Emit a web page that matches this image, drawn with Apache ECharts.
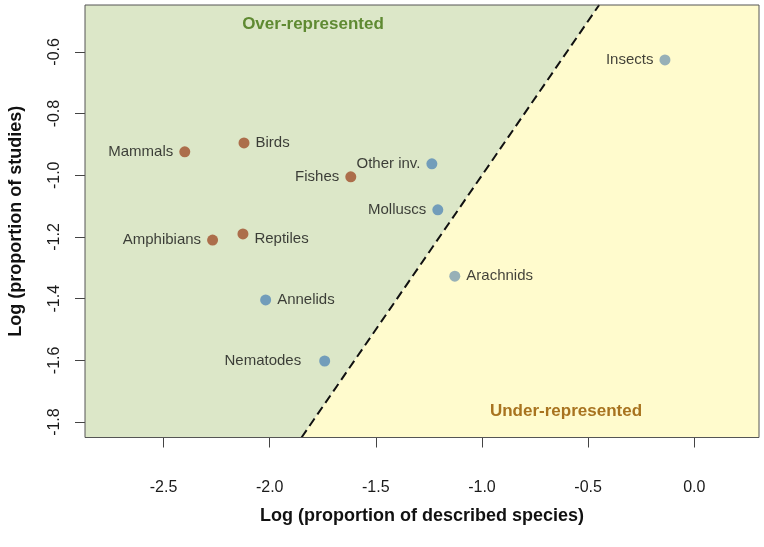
<!DOCTYPE html>
<html>
<head>
<meta charset="utf-8">
<script src="https://cdn.jsdelivr.net/npm/echarts@6/dist/echarts.min.js"></script>
<style>html,body{margin:0;padding:0;background:#fff}#c{width:764px;height:547px}</style>
</head>
<body>
<div id="c"></div>
<script>
// ---- data ----
const groups = ['Mammals','Birds','Fishes','Amphibians','Reptiles','Other inv.','Molluscs','Annelids','Nematodes','Arachnids','Insects'];
const logSpecies = [-2.400,-2.121,-1.618,-2.269,-2.126,-1.236,-1.208,-2.019,-1.741,-1.128,-0.138];
const logStudies = [-0.924,-0.895,-1.005,-1.210,-1.190,-0.963,-1.112,-1.404,-1.602,-1.327,-0.626];
const isVertebrate = [true,true,true,true,true,false,false,false,false,false,false];
const labelSide = ['left','right','left','left','right','left','left','right','left','right','left'];
const xTicks = [-2.5,-2.0,-1.5,-1.0,-0.5,0.0];
const yTicks = [-1.8,-1.6,-1.4,-1.2,-1.0,-0.8,-0.6];
const xRange = [-2.870, 0.305];
const yRange = [-1.850, -0.448];

const FONT = '"Liberation Sans", Arial, Helvetica, sans-serif';
const chart = echarts.init(document.getElementById('c'), null, {renderer:'canvas'});

const [x0,x1] = xRange, [y0,y1] = yRange;
// region polygons bounded by the 1:1 line
const greenPoly = [[x0,y0],[y0,y0],[y1,y1],[x0,y1]];
const yellowPoly = [[y0,y0],[x1,y0],[x1,y1],[y1,y1]];

function polySeries(poly, color){
  return {
    type:'custom', silent:true, z:0,
    data:[0],
    renderItem:function(params, api){
      return {type:'polygon', shape:{points: poly.map(p=>api.coord(p))}, style:{fill:color}};
    }
  };
}

const pts = groups.map((g,i)=>{
  const extra = {};
  if (g==='Nematodes') extra.distance = 18;
  if (g==='Reptiles') extra.offset = [0,5];
  const over = logStudies[i] > logSpecies[i];
  const col = isVertebrate[i] ? '#a0502c' : (over ? '#588bb6' : '#7d9db2');
  return {
    value:[logSpecies[i], logStudies[i]],
    name:g,
    itemStyle:{color: col},
    label:Object.assign({show:true, position:labelSide[i], formatter:g}, extra)
  };
});

chart.setOption({
  animation:false,
  backgroundColor:'#fff',
  grid:{left:85, right:5, top:5, bottom:109.5, outerBoundsMode:'none', containLabel:false, show:true, borderColor:'#555', borderWidth:1, backgroundColor:'transparent', z:5},
  xAxis:{
    type:'value', min:x0, max:x1,
    splitLine:{show:false},
    axisLine:{show:false, onZero:false},
    axisTick:{show:true, length:10, lineStyle:{color:'#444'}, customValues:xTicks},
    axisLabel:{fontFamily:FONT, fontSize:16, color:'#1a1a1a', margin:50, verticalAlign:'middle', customValues:xTicks, formatter:v=>v.toFixed(1)},
    name:'Log (proportion of described species)', nameLocation:'middle', nameGap:70,
    nameTextStyle:{fontFamily:FONT, fontSize:18, fontWeight:'bold', color:'#111'}
  },
  yAxis:{
    type:'value', min:y0, max:y1,
    splitLine:{show:false},
    axisLine:{show:false, onZero:false},
    axisTick:{show:true, length:10, lineStyle:{color:'#444'}, customValues:yTicks},
    axisLabel:{fontFamily:FONT, fontSize:16, color:'#1a1a1a', margin:22, rotate:90, customValues:yTicks, formatter:v=>v.toFixed(1)},
    name:'Log (proportion of studies)', nameLocation:'middle', nameGap:60, nameRotate:90,
    nameTextStyle:{fontFamily:FONT, fontSize:18, fontWeight:'bold', color:'#111'}
  },
  series:[
    polySeries(greenPoly, '#dce7c8'),
    polySeries(yellowPoly, '#fffbcd'),
    {
      type:'line', silent:true, z:3, symbol:'none',
      data:[[y0,y0],[y1,y1]],
      lineStyle:{color:'#111', width:2, type:[9,5]}
    },
    {
      type:'scatter', z:4, symbolSize:11,
      data:pts,
      label:{fontFamily:FONT, fontSize:15, color:'#111', distance:6}
    }
  ],
  graphic:[
    {type:'text', style:{text:'Over-represented', x:313, y:24, textAlign:'center', textVerticalAlign:'middle', font:'bold 17px '+FONT, fill:'#5f8a32'}, z:10},
    {type:'text', style:{text:'Under-represented', x:566, y:411, textAlign:'center', textVerticalAlign:'middle', font:'bold 17px '+FONT, fill:'#a8731f'}, z:10}
  ]
});
</script>
</body>
</html>
